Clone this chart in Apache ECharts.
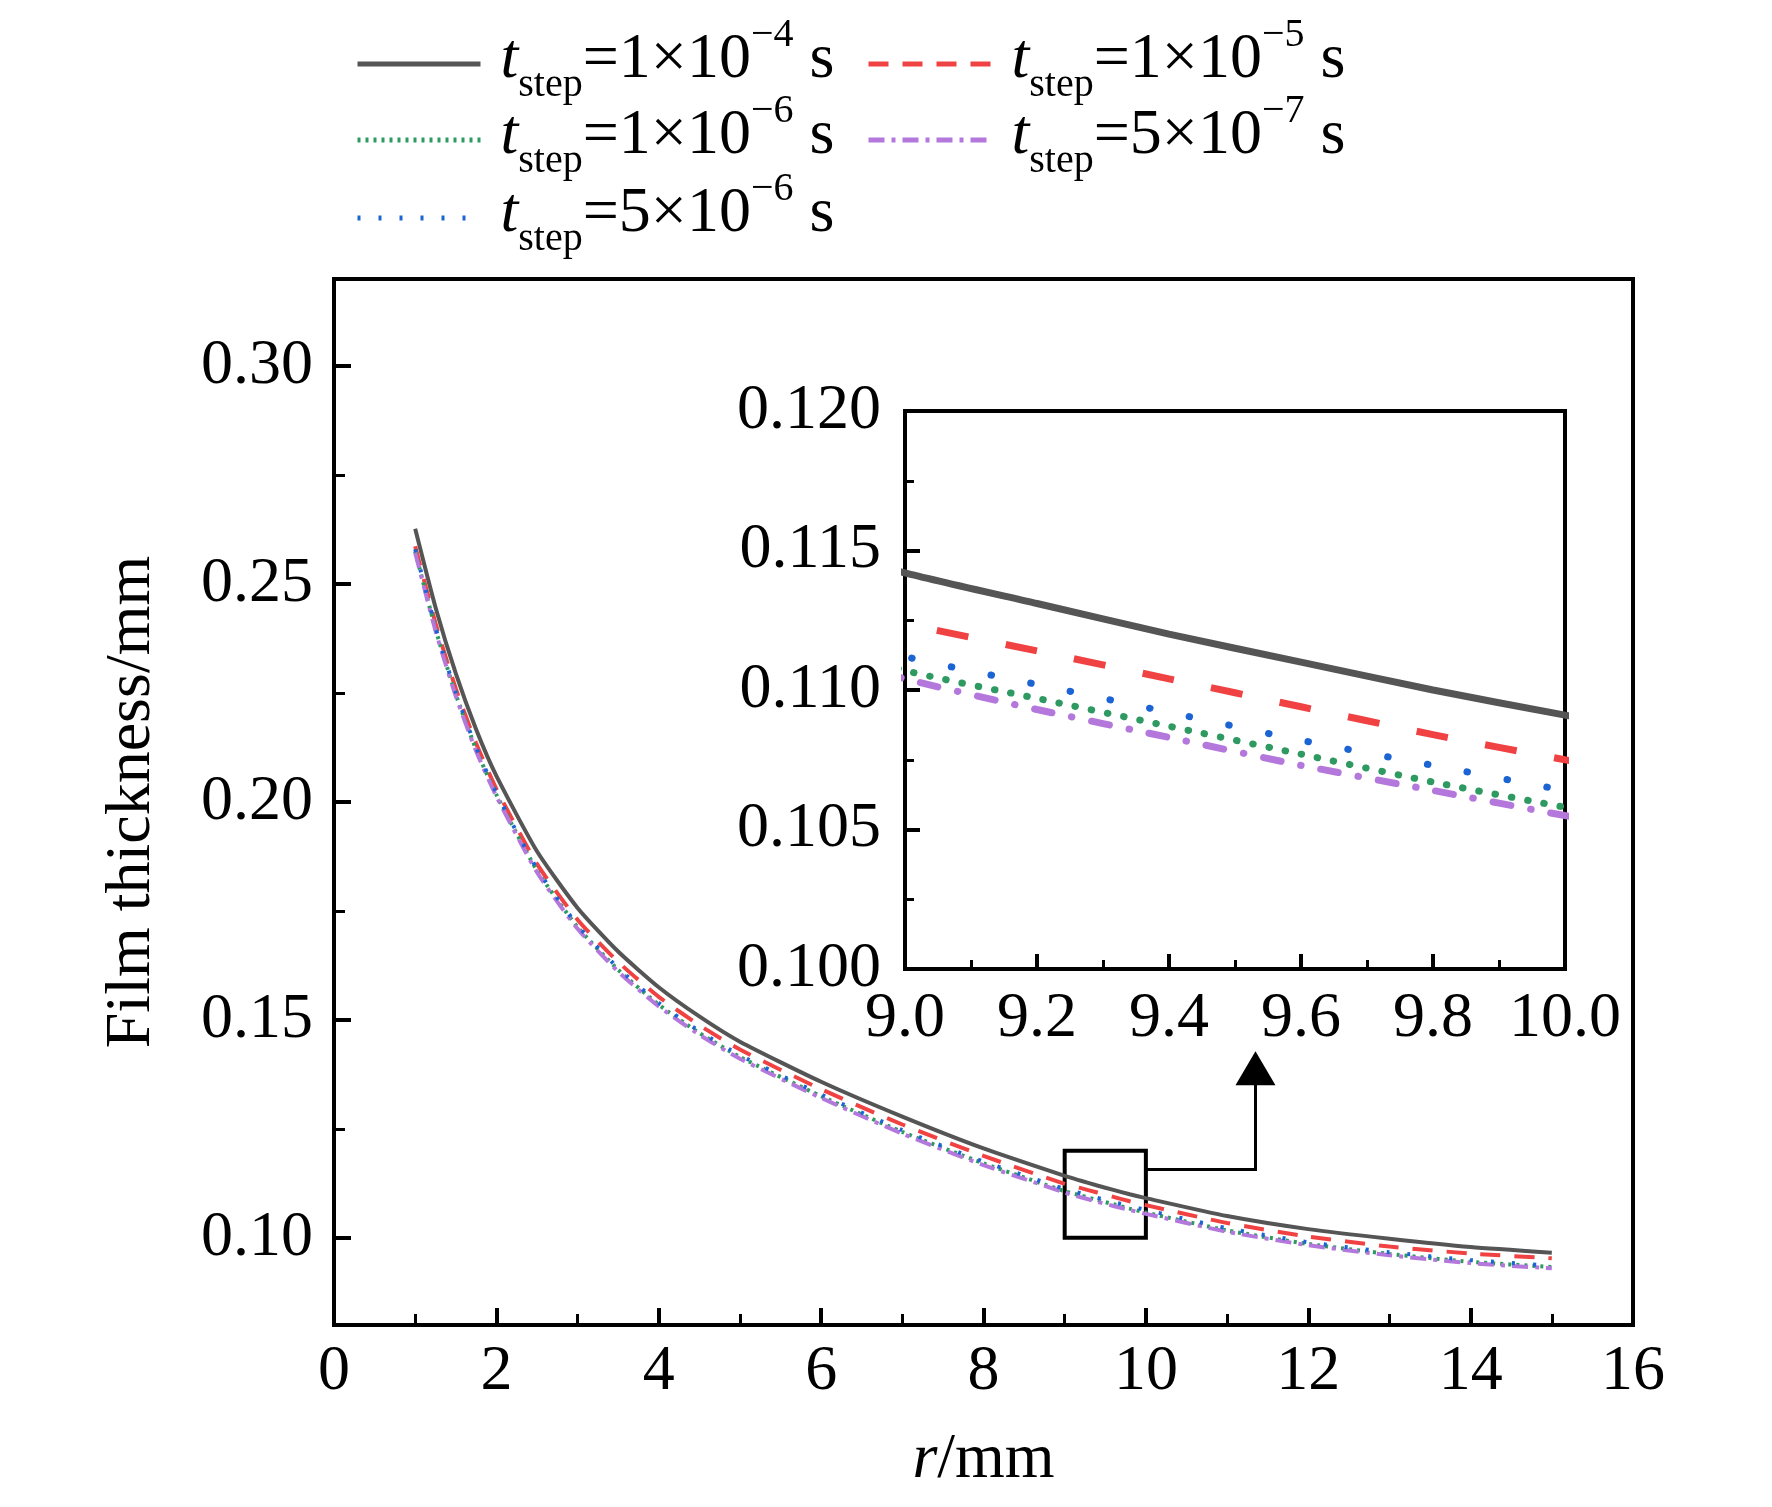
<!DOCTYPE html>
<html>
<head>
<meta charset="utf-8">
<title>Film thickness</title>
<script src="https://cdn.jsdelivr.net/npm/echarts@6/dist/echarts.min.js"></script>
<style>
  html, body { margin: 0; padding: 0; background: #fff; }
  #main { width: 1772px; height: 1507px; }
</style>
</head>
<body>
<div id="main"></div>
<script>
// radial position r (mm)
var rVals = [1, 1.25, 1.5, 1.75, 2, 2.5, 3, 3.5, 4, 4.5, 5, 6, 7, 8, 9, 9.2, 9.4, 9.6, 9.8, 10, 11, 12, 13, 14, 15];

// film thickness (mm) for each time step
var h1e4 = [0.2627, 0.2447, 0.2295, 0.2167, 0.2060, 0.1887, 0.1757, 0.1657, 0.1575, 0.1508, 0.1450, 0.1358, 0.1278, 0.1205, 0.1142, 0.1131, 0.1120, 0.1110, 0.1100, 0.1091, 0.1050, 0.1020, 0.0998, 0.0979, 0.0966];
var h1e5 = [0.2587, 0.2410, 0.2260, 0.2135, 0.2030, 0.1858, 0.1730, 0.1633, 0.1553, 0.1488, 0.1432, 0.1341, 0.1260, 0.1188, 0.1124, 0.1114, 0.1104, 0.1094, 0.1084, 0.1075, 0.1034, 0.1003, 0.0980, 0.0964, 0.0953];
var h1e6 = [0.2575, 0.2397, 0.2247, 0.2121, 0.2017, 0.1843, 0.1713, 0.1615, 0.1535, 0.1470, 0.1415, 0.1325, 0.1243, 0.1171, 0.1107, 0.1097, 0.1087, 0.1077, 0.1067, 0.1058, 0.1017, 0.0986, 0.0963, 0.0945, 0.0933];
var h5e7 = [0.2572, 0.2393, 0.2243, 0.2117, 0.2013, 0.1839, 0.1709, 0.1611, 0.1531, 0.1466, 0.1411, 0.1321, 0.1239, 0.1167, 0.1104, 0.1093, 0.1083, 0.1073, 0.1064, 0.1055, 0.1014, 0.0983, 0.0960, 0.0942, 0.0930];
var h5e6 = [0.2580, 0.2401, 0.2251, 0.2125, 0.2021, 0.1847, 0.1717, 0.1619, 0.1539, 0.1474, 0.1419, 0.1329, 0.1247, 0.1175, 0.1112, 0.1102, 0.1092, 0.1082, 0.1073, 0.1064, 0.1022, 0.0990, 0.0967, 0.0949, 0.0936];

// legend labels: mantissa and exponent
var stepNames = ['1e-4', '1e-5', '1e-6', '5e-7', '5e-6'];
var stepMant = ['1', '1', '1', '5', '5'];
var stepExp = ['\u22124', '\u22125', '\u22126', '\u22127', '\u22126'];

// axis ticks
var yMajor = [0.10, 0.15, 0.20, 0.25, 0.30];
var yMinor = [0.125, 0.175, 0.225, 0.275];

// zoom window and arrow (data units)
var zoomX = [9, 10];
var zoomY = [0.10, 0.12];
var arrowX = [10, 11.35];
var arrowY = [0.1158, 0.1389];

var FONT = 'Liberation Serif';
var dom = document.getElementById('main');
var myChart = echarts.init(dom);

var colors = ['#555555', '#f04242', '#2e9a62', '#b478dc', '#1c64d4'];
var dataSets = [h1e4, h1e5, h1e6, h5e7, h5e6];

// line style for the main plot
var mainStyle = [
  { width: 4, type: 'solid' },
  { width: 4, type: [20, 14] },
  { width: 4, type: [3, 5] },
  { width: 4, type: [16, 7, 4, 7] },
  { width: 4, type: [3, 18] }
];
// line style for the inset (thicker)
var insetStyle = [
  { width: 7, type: 'solid' },
  { width: 7, type: [32, 38] },
  { width: 7, type: [0.5, 16], cap: 'round' },
  { width: 7, type: [18, 20, 0.5, 20], cap: 'round' },
  { width: 7, type: [0.5, 40], cap: 'round' }
];

var series = [];
dataSets.forEach(function (arr, k) {
  var pts = rVals.map(function (x, i) { return [x, arr[i]]; });
  var s = {
    name: stepNames[k],
    type: 'line',
    xAxisIndex: 0,
    yAxisIndex: 0,
    data: pts,
    symbol: 'none',
    smooth: 0.2,
    color: colors[k],
    lineStyle: Object.assign({ color: colors[k] }, mainStyle[k]),
    z: 3
  };
  if (k === 0) {
    s.markArea = {
      silent: true,
      itemStyle: { color: 'rgba(0,0,0,0)', borderColor: '#000', borderWidth: 4 },
      data: [[{ xAxis: zoomX[0], yAxis: zoomY[0] }, { xAxis: zoomX[1], yAxis: zoomY[1] }]]
    };
    s.markLine = {
      silent: true,
      symbol: ['none', 'none'],
      label: { show: false },
      lineStyle: { color: '#000', width: 3, type: 'solid', cap: 'square' },
      data: [
        [{ coord: [arrowX[0], arrowY[0]] }, { coord: [arrowX[1], arrowY[0]] }],
        [{ coord: [arrowX[1], arrowY[0]] }, { coord: [arrowX[1], arrowY[1]], symbol: 'triangle', symbolSize: [40, 34] }]
      ]
    };
  }
  series.push(s);
  series.push({
    name: stepNames[k],
    type: 'line',
    xAxisIndex: 1,
    yAxisIndex: 2,
    data: pts,
    symbol: 'none',
    smooth: 0.2,
    clip: true,
    color: colors[k],
    lineStyle: Object.assign({ color: colors[k] }, insetStyle[k]),
    z: 3
  });
});

var legendRich = {
  it: { fontFamily: FONT, fontStyle: 'italic', fontSize: 64, lineHeight: 90, verticalAlign: 'middle', color: '#000' },
  sub: { fontFamily: FONT, fontSize: 40, lineHeight: 46, verticalAlign: 'bottom', color: '#000' },
  n: { fontFamily: FONT, fontSize: 64, lineHeight: 90, verticalAlign: 'middle', color: '#000' },
  sup: { fontFamily: FONT, fontSize: 40, lineHeight: 74, verticalAlign: 'top', color: '#000' }
};

// legend placement, one legend per entry
var legendPos = [[350, 10], [861, 10], [350, 86], [861, 86], [350, 164]];
var legends = stepNames.map(function (nm, k) {
  return {
    data: [nm],
    left: legendPos[k][0],
    top: legendPos[k][1],
    itemWidth: 123,
    itemHeight: 14,
    selectedMode: false,
    itemStyle: { opacity: 0, color: 'rgba(0,0,0,0)', borderWidth: 0 },
    lineStyle: { width: 5 },
    textStyle: { padding: [0, 0, 8, 15], rich: legendRich },
    formatter: function () {
      return '{it|t}{sub|step}{n|=' + stepMant[k] + '\u00d710}{sup|' + stepExp[k] + '}{n| s}';
    }
  };
});

var labelStyle = { fontFamily: FONT, fontSize: 64, color: '#000' };

option = {
  animation: false,
  backgroundColor: '#fff',
  textStyle: { fontFamily: FONT },
  legend: legends,
  grid: [
    { left: 334, top: 279, width: 1299, height: 1046, show: true, borderColor: '#000', borderWidth: 4, backgroundColor: 'rgba(0,0,0,0)' },
    { left: 905, top: 411, width: 660, height: 558, show: true, borderColor: '#000', borderWidth: 4, backgroundColor: 'rgba(0,0,0,0)' }
  ],
  xAxis: [
    {
      type: 'value', gridIndex: 0, min: 0, max: 16, interval: 2,
      axisLine: { show: true, onZero: false, lineStyle: { color: '#000', width: 4 } },
      axisTick: { show: true, inside: true, length: 17, lineStyle: { color: '#000', width: 4 } },
      minorTick: { show: true, splitNumber: 2, length: 11, lineStyle: { color: '#000', width: 3 } },
      splitLine: { show: false },
      axisLabel: Object.assign({ margin: 15 }, labelStyle),
      name: '{i|r}/mm',
      nameLocation: 'middle',
      nameGap: 103,
      nameTextStyle: {
        fontFamily: FONT, fontSize: 64, color: '#000',
        rich: { i: { fontFamily: FONT, fontSize: 64, fontStyle: 'italic', color: '#000' } }
      }
    },
    {
      type: 'value', gridIndex: 1, min: 9, max: 10, interval: 0.2,
      axisLine: { show: true, onZero: false, lineStyle: { color: '#000', width: 4 } },
      axisTick: { show: true, inside: true, length: 15, lineStyle: { color: '#000', width: 4 } },
      minorTick: { show: true, splitNumber: 2, length: 9, lineStyle: { color: '#000', width: 3 } },
      splitLine: { show: false },
      axisLabel: Object.assign({ margin: 18, formatter: function (v) { return v.toFixed(1); } }, labelStyle)
    }
  ],
  yAxis: [
    {
      type: 'value', gridIndex: 0, min: 0.08, max: 0.32,
      axisLine: { show: true, onZero: false, lineStyle: { color: '#000', width: 4 } },
      axisTick: { show: true, inside: true, length: 17, customValues: yMajor, lineStyle: { color: '#000', width: 4 } },
      splitLine: { show: false },
      axisLabel: Object.assign({ margin: 21, customValues: yMajor, formatter: function (v) { return v.toFixed(2); } }, labelStyle),
      name: 'Film thickness/mm',
      nameLocation: 'middle',
      nameGap: 170,
      nameTextStyle: { fontFamily: FONT, fontSize: 64, color: '#000' }
    },
    {
      type: 'value', gridIndex: 0, min: 0.08, max: 0.32, position: 'left',
      axisLine: { show: false },
      axisTick: { show: true, inside: true, length: 11, customValues: yMinor, lineStyle: { color: '#000', width: 3 } },
      axisLabel: { show: false },
      splitLine: { show: false }
    },
    {
      type: 'value', gridIndex: 1, min: 0.1, max: 0.12, interval: 0.005,
      axisLine: { show: true, onZero: false, lineStyle: { color: '#000', width: 4 } },
      axisTick: { show: true, inside: true, length: 15, lineStyle: { color: '#000', width: 4 } },
      minorTick: { show: true, splitNumber: 2, length: 9, lineStyle: { color: '#000', width: 3 } },
      splitLine: { show: false },
      axisLabel: Object.assign({ margin: 24, formatter: function (v) { return v.toFixed(3); } }, labelStyle)
    }
  ],
  series: series
};

if (option && typeof option === 'object') {
  myChart.setOption(option, true);
}
</script>
</body>
</html>
